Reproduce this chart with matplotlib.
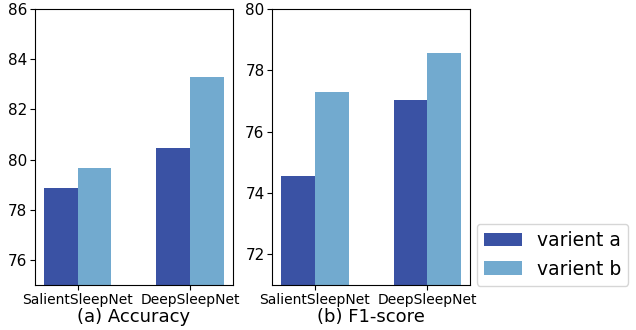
import matplotlib
matplotlib.use("Agg")
import matplotlib.pyplot as plt
import numpy as np

# data
models = ["SalientSleepNet", "DeepSleepNet"]
acc_a = [78.88, 80.48]
acc_b = [79.68, 83.29]
f1_a = [74.57, 77.04]
f1_b = [77.30, 78.56]

color_a = "#3A52A4"
color_b = "#72AACF"

fig = plt.figure(figsize=(6.36, 3.3), dpi=100)
ax1 = fig.add_axes([0.055, 0.136, 0.311, 0.837])
ax2 = fig.add_axes([0.428, 0.136, 0.311, 0.837])

x = np.arange(len(models))
w = 0.3

#akurasi
ax1.bar(x - w / 2, acc_a, w, color=color_a, label="varient a")
ax1.bar(x + w / 2, acc_b, w, color=color_b, label="varient b")
ax1.set_ylim(75, 86)
ax1.set_yticks([76, 78, 80, 82, 84, 86])
ax1.set_xticks(x)
ax1.set_xticklabels(models)
ax1.set_xlabel("(a) Accuracy", fontsize=13, labelpad=1)

#f1
ax2.bar(x - w / 2, f1_a, w, color=color_a)
ax2.bar(x + w / 2, f1_b, w, color=color_b)
ax2.set_ylim(71, 80)
ax2.set_yticks([72, 74, 76, 78, 80])
ax2.set_xticks(x)
ax2.set_xticklabels(models)
ax2.set_xlabel("(b) F1-score", fontsize=13, labelpad=1)

for ax in (ax1, ax2):
    ax.tick_params(axis="x", labelsize=10, pad=2)
    ax.tick_params(axis="y", labelsize=11, pad=2)

fig.legend(loc="lower right", bbox_to_anchor=(0.988, 0.133), fontsize=13.5,
           borderaxespad=0, handlelength=2.0)

fig.savefig("out.png", dpi=100)
plt.close()
